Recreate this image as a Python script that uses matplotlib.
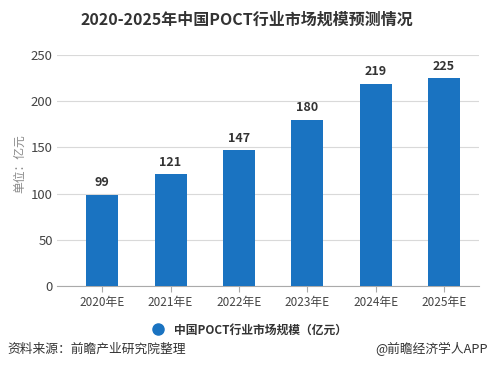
import matplotlib.pyplot as plt

plt.rcParams['font.family'] = ['Noto Sans CJK SC', 'DejaVu Sans']

years = ['2020年E', '2021年E', '2022年E', '2023年E', '2024年E', '2025年E']
values = [99, 121, 147, 180, 219, 225]
yticks = [0, 50, 100, 150, 200, 250]

bar_color = '#1a73c1'

fig = plt.figure(figsize=(4.93, 3.87), dpi=100)
ax = fig.add_axes([0.1156, 0.261, 0.856, 0.597])

x = range(len(years))
bars = ax.bar(x, values, width=0.468, color=bar_color, zorder=3, label='中国POCT行业市场规模（亿元）')
for xi, v in zip(x, values):
    ax.text(xi, v + 6, str(v), ha='center', va='bottom', fontsize=9,
            fontweight='bold', color='#333333')

ax.set_xlim(-0.66, len(years) - 0.49)
ax.set_ylim(0, 250)
ax.set_yticks(yticks)
ax.set_xticks(list(x))
ax.set_xticklabels(years)
ax.grid(axis='y', color='#d9d9d9', linewidth=0.8, zorder=0)
for s in ['top', 'right', 'left']:
    ax.spines[s].set_visible(False)
ax.spines['bottom'].set_color('#aaaaaa')
ax.tick_params(axis='y', length=0, labelsize=9.5, labelcolor='#444444', pad=3)
ax.tick_params(axis='x', length=4, color='#aaaaaa', labelsize=8.5, labelcolor='#444444', pad=3)
ax.set_ylabel('单位：亿元', fontsize=8.5, color='#888888')
ax.yaxis.set_label_coords(-0.072, 0.53)

fig.text(0.5, 0.95, '2020-2025年中国POCT行业市场规模预测情况', ha='center', va='center',
         fontsize=11.5, fontweight='bold', color='#333333')

# legend
fig.legend(handles=[plt.Line2D([], [], marker='o', linestyle='', markersize=8,
                               markerfacecolor=bar_color, markeredgecolor=bar_color)],
           labels=['中国POCT行业市场规模（亿元）'], loc='center', bbox_to_anchor=(0.5, 0.147),
           frameon=False, prop={'size': 8.5, 'weight': 'bold'}, handletextpad=0.3,
           labelcolor='#333333')

fig.text(0.016, 0.098, '资料来源：前瞻产业研究院整理', ha='left', va='center',
         fontsize=9.2, color='#333333')
fig.text(0.99, 0.098, '@前瞻经济学人APP', ha='right', va='center',
         fontsize=9.2, color='#333333')

fig.savefig('out.png', dpi=100)
